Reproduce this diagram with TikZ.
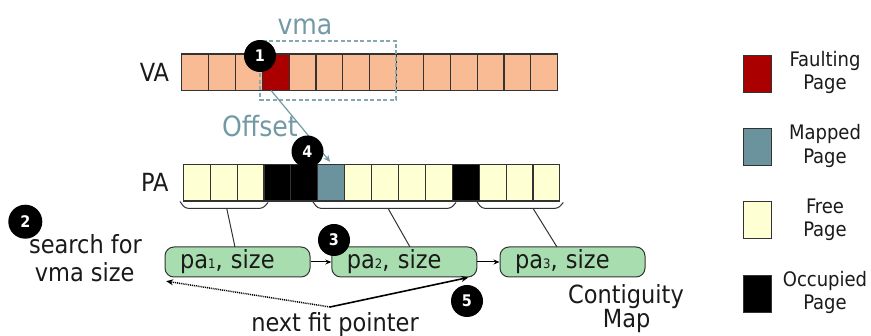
\documentclass[tikz,border=0pt]{standalone}
\usepackage{fontspec}
\setmainfont{DejaVu Sans Condensed}
\usetikzlibrary{arrows.meta,calc}
\definecolor{peach}{HTML}{F9BB93}
\definecolor{fault}{HTML}{AA0000}
\definecolor{mapped}{HTML}{6B939E}
\definecolor{freepg}{HTML}{FFFFD4}
\definecolor{occ}{HTML}{000000}
\definecolor{mint}{HTML}{A8DDB0}
\definecolor{slate}{HTML}{7399A5}
\definecolor{slatedash}{HTML}{86A8B3}
\definecolor{edge}{HTML}{333333}
\definecolor{ink}{HTML}{1A1A1A}
\newcommand{\pasub}[1]{\fontsize{13}{13}\selectfont #1}
\begin{document}
\begin{tikzpicture}[x=1pt,y=-1pt,
  cell/.style={draw=edge, line width=1.1pt, minimum width=26.9pt, minimum height=36.5pt, inner sep=0pt, outer sep=0pt},
  keybox/.style={draw=edge, line width=1pt, minimum width=28pt, minimum height=37pt, inner sep=0pt},
  bigtext/.style={font=\fontsize{25}{28.4}\selectfont, text=ink, inner sep=0pt, anchor=base},
  keytext/.style={font=\fontsize{20}{23.3}\selectfont, text=ink, inner sep=0pt, anchor=base, align=center},
  slatetext/.style={font=\fontsize{28}{32}\selectfont, text=slate, inner sep=0pt, anchor=base},
  entry/.style={draw=edge, line width=1pt, fill=mint, rounded corners=9pt, minimum width=145pt, minimum height=30pt,
    text width=115pt, inner xsep=15pt, inner ysep=0pt, align=left, font=\fontsize{25}{28}\selectfont, text=ink},
  badge/.style={circle, fill=black, text=white, minimum size=32pt, inner sep=0pt, font=\fontsize{16}{16}\bfseries\selectfont},
  bracket/.style={draw=edge, line width=1pt, rounded corners=3pt},
  lead/.style={draw=edge, line width=1pt},
  chain/.style={draw=black, line width=1pt, -{Stealth[length=6pt,width=5pt]}},
  tip/.style={-{Stealth[length=7pt,width=6pt]}}
]
\useasboundingbox (0,0) rectangle (871,336);

% virtual address row
\foreach \i/\c in {0/peach,1/peach,2/peach,3/fault,4/peach,5/peach,6/peach,7/peach,8/peach,9/peach,10/peach,11/peach,12/peach,13/peach}
  \node[cell, fill=\c] (va\i) at ({181.7+26.86*\i+13.43}, 72.3) {};
\node[bigtext] (valbl) at (154.5, 81.7) {VA};

% vma extent
\draw[slatedash, line width=1.3pt, dash pattern=on 4pt off 2.5pt] (260,41) rectangle (396,100);
\node[slatetext] (vmalbl) at (305, 34.5) {vma};

% physical address row
\foreach \i/\c in {0/freepg,1/freepg,2/freepg,3/occ,4/occ,5/mapped,6/freepg,7/freepg,8/freepg,9/freepg,10/occ,11/freepg,12/freepg,13/freepg}
  \node[cell, fill=\c] (pa\i) at ({183.3+26.9*\i+13.45}, 182.75) {};
\node[bigtext] (palbl) at (154.7, 191.7) {PA};

% offset mapping
\node[slatetext] (offlbl) at (260, 136.7) {Offset};
\draw[slate, line width=1.2pt, tip] ($(va3.south west)!0.33!(va3.south east)$) -- ($(pa5.north)+(-1,-2.5)$);

% free runs
\draw[bracket] (180,201.5) -- (185,208.3) -- (263,208.3) -- (268,202.5);
\draw[bracket] (312.7,201.5) -- (317.7,208.3) -- (451,208.3) -- (456,202.5);
\draw[bracket] (476.7,201.5) -- (481.7,208.3) -- (558.3,208.3) -- (563.3,202.5);
\coordinate (br1) at (226.7,208.3);
\coordinate (br2) at (388,208.3);
\coordinate (br3) at (533,208.3);

% contiguity map entries
\node[entry] (n1) at (237.5,262) {pa{\pasub{1}}, size};
\node[entry] (n2) at (404.3,262) {pa{\pasub{2}}, size};
\node[entry] (n3) at (572.5,262) {pa{\pasub{3}}, size};
\coordinate (t1) at (235,247);
\coordinate (t2) at (410,247);
\coordinate (t3) at (557,247);
\draw[lead] (br1) -- (t1);
\draw[lead] (br2) -- (t2);
\draw[lead] (br3) -- (t3);
\draw[chain] (n1) -- (n2);
\draw[chain] (n2) -- (n3);

% next fit pointer
\coordinate (p) at (330,307);
\draw[black, line width=1.5pt, dash pattern=on 1pt off 0.9pt, tip] (p) -- ($(n1.south west)+(1.7,3.7)$);
\draw[black, line width=1.6pt, tip] (p) -- ($(n2.south east)+(-9,0)$);
\node[bigtext] (nfp) at (335, 331.7) {next fit pointer};

\node[bigtext] (srch1) at (85.5, 253.3) {search for};
\node[bigtext] (srch2) at (84.7, 281.7) {vma size};
\node[bigtext] (cm1) at (626, 303.3) {Contiguity};
\node[bigtext] (cm2) at (626.7, 328) {Map};

% step badges
\node[badge] (c1) at (260,56) {1};
\node[badge, minimum size=34pt] (c2) at (25.3,221.7) {2};
\node[badge] (c3) at (334,240) {3};
\node[badge] (c4) at (307.5,151.5) {4};
\node[badge] (c5) at (467,301) {5};

% key (base anchor of a two-line label sits on its second line)
\node[keybox, fill=fault] (k1) at (757,74) {};
\node[keybox, fill=mapped] (k2) at (757,147.3) {};
\node[keybox, fill=freepg] (k3) at (757,220.3) {};
\node[keybox, fill=occ] (k4) at (757,293.8) {};
\node[keytext] (k1t) at (825,90) {Faulting\\Page};
\node[keytext] (k2t) at (825,163.3) {Mapped\\Page};
\node[keytext] (k3t) at (825,236.7) {Free\\Page};
\node[keytext] (k4t) at (825,310) {Occupied\\Page};
\end{tikzpicture}
\end{document}
